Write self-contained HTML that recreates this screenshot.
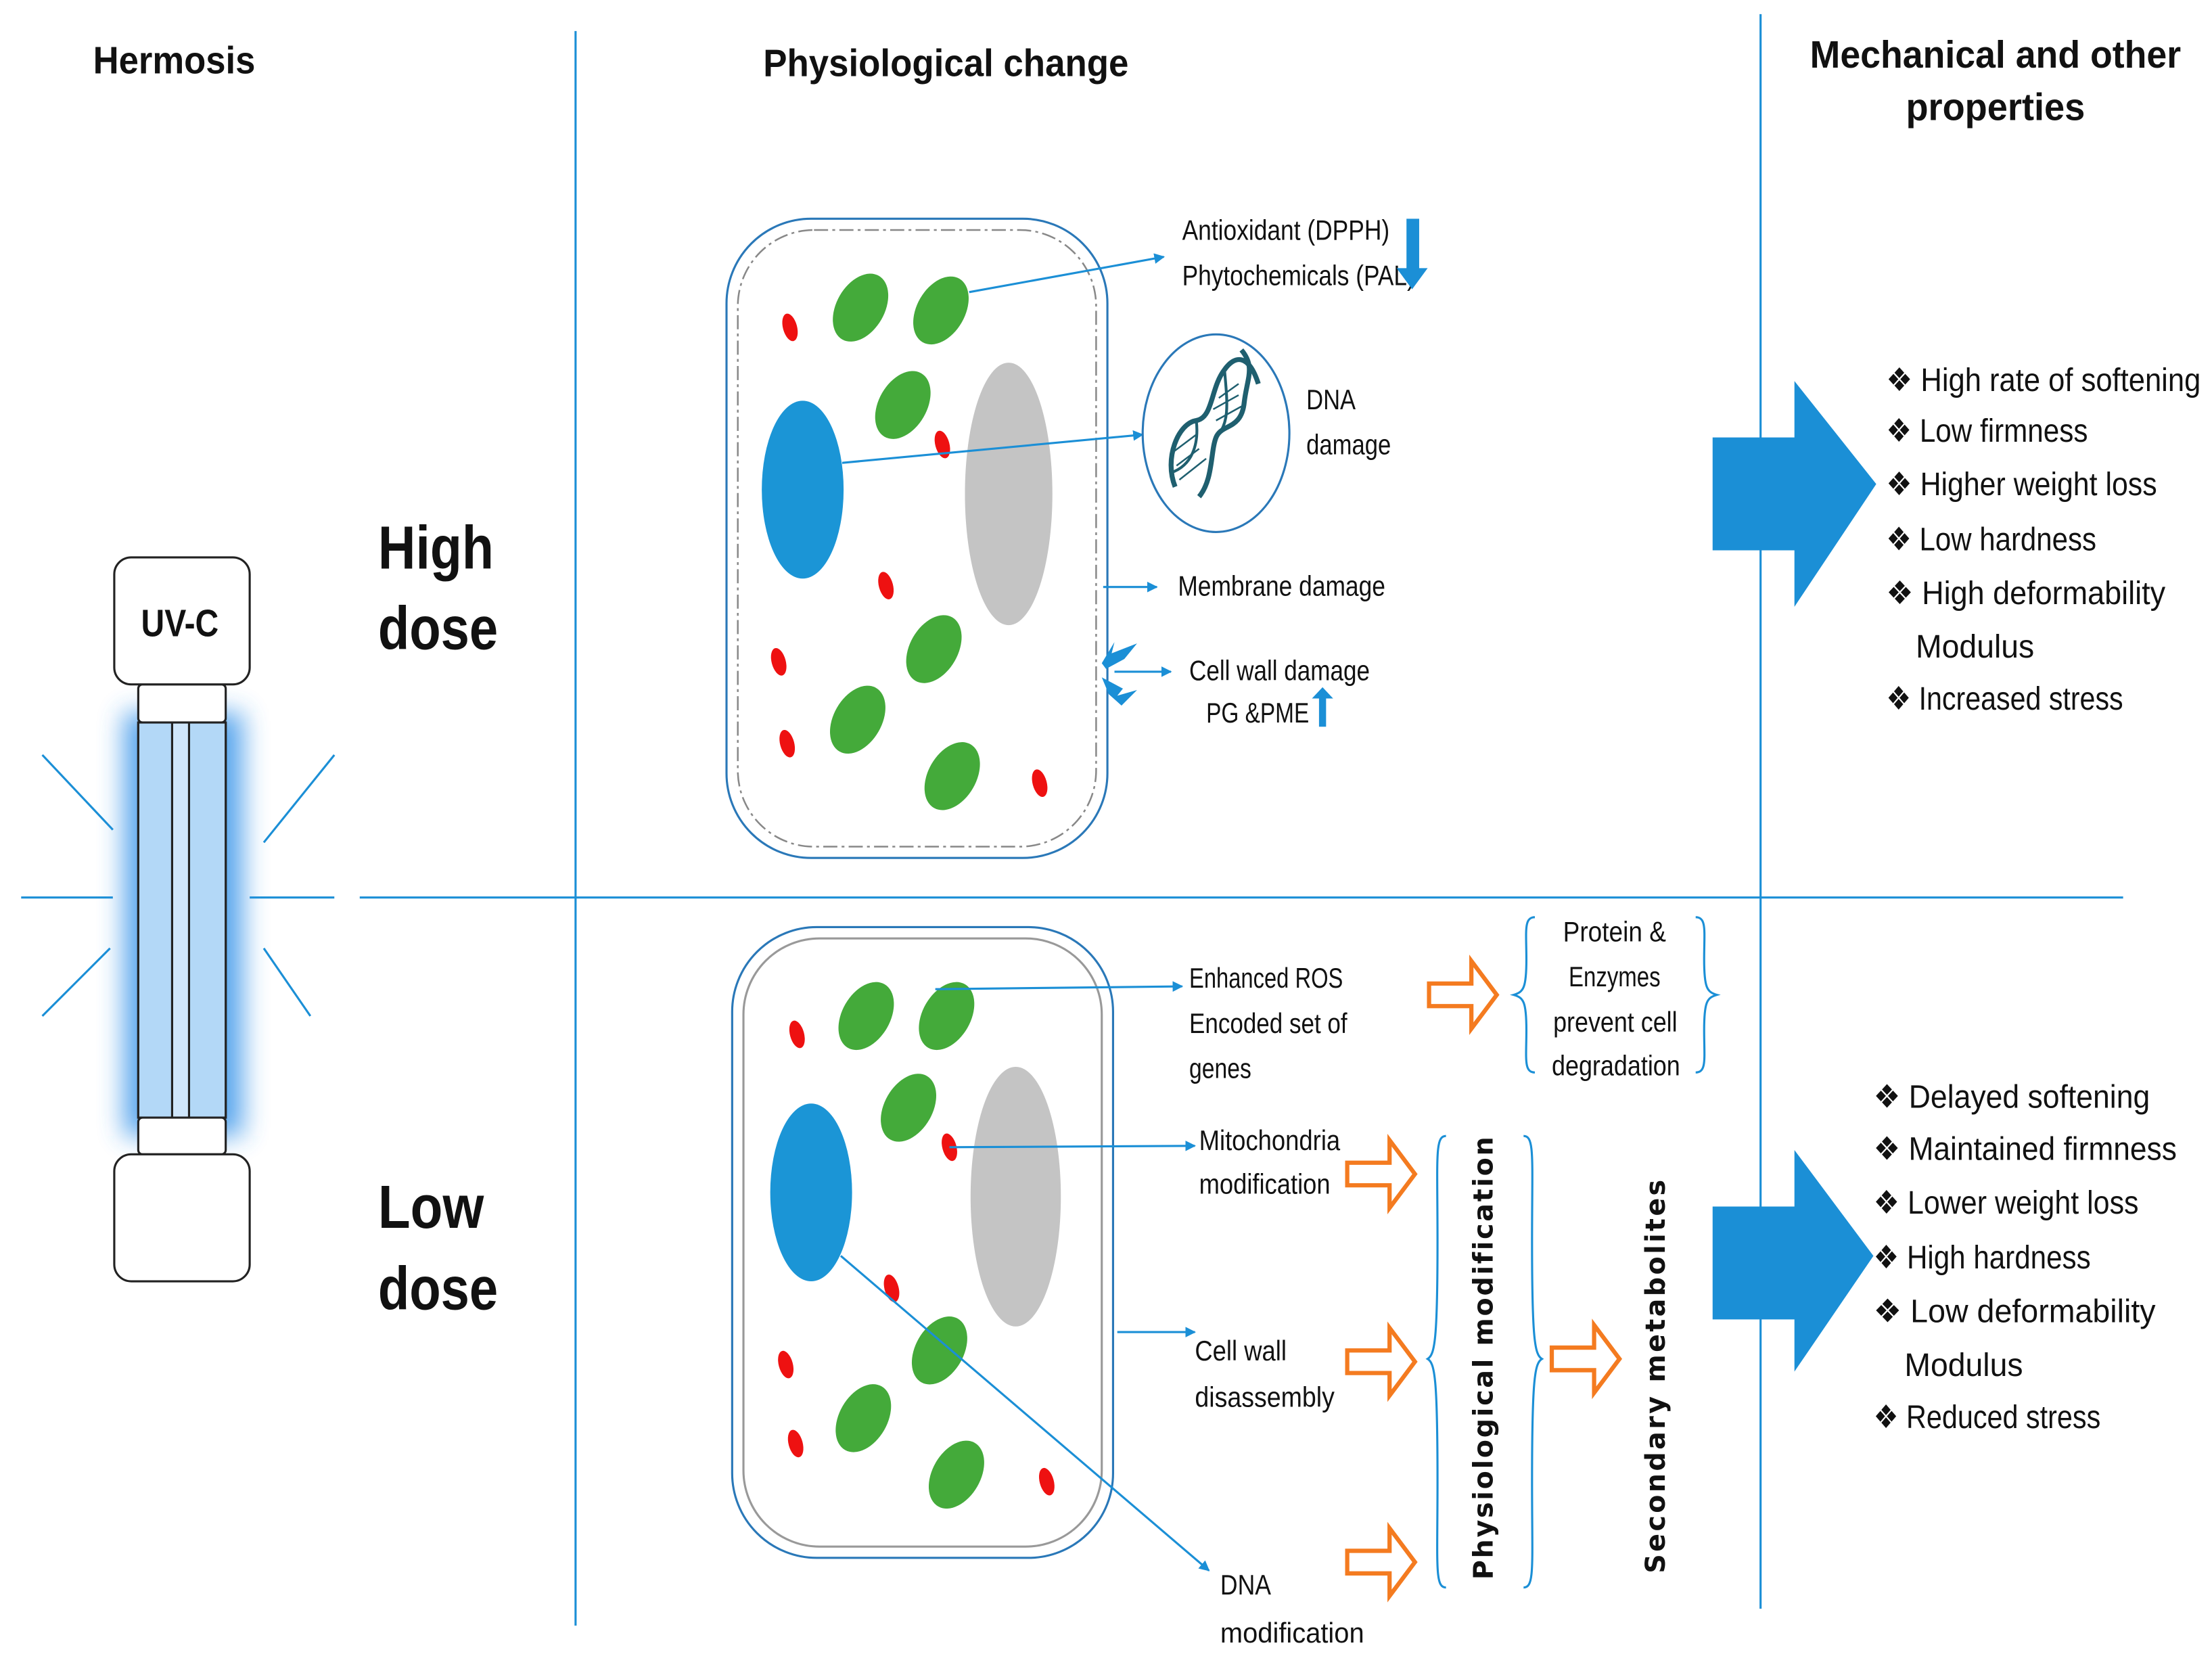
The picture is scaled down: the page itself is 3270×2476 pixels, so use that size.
<!DOCTYPE html>
<html><head><meta charset="utf-8"><style>
html,body{margin:0;padding:0;background:#fff}
svg{display:block}
text{font-family:"Liberation Sans",sans-serif;fill:#111}
.t{font-size:20px}
.h{font-size:27px;font-weight:bold}
.b{font-size:23px}
</style></head><body>
<svg width="3270" height="2476" viewBox="0 0 1568 1187" preserveAspectRatio="none" xmlns="http://www.w3.org/2000/svg">
<defs>
<marker id="ar" viewBox="0 0 10 10" refX="9" refY="5" markerWidth="5" markerHeight="5" orient="auto"><path d="M0,0L10,5L0,10z" fill="#1b8fd6"/></marker>
<filter id="glow" x="-1" y="-0.3" width="3" height="1.6"><feGaussianBlur stdDeviation="9"/></filter>
<g id="oa"><path d="M0,-8H30V-24L48,0L30,24V8H0Z" fill="#fff" stroke="#f47b20" stroke-width="3"/></g>
</defs>
<g stroke="#1b8fd6" stroke-width="1.5">
<line x1="408" y1="22" x2="408" y2="1152"/>
<line x1="1248" y1="10" x2="1248" y2="1140"/>
<line x1="255" y1="636" x2="1505" y2="636"/>
<line x1="15" y1="636" x2="80" y2="636"/>
<line x1="177" y1="636" x2="237" y2="636"/>
<line x1="30" y1="535" x2="80" y2="588"/>
<line x1="237" y1="535" x2="187" y2="597"/>
<line x1="30" y1="720" x2="78" y2="672"/>
<line x1="220" y1="720" x2="187" y2="672"/>
</g>
<text class="h" x="66" y="52" textLength="115" lengthAdjust="spacingAndGlyphs">Hermosis</text>
<text class="h" x="541" y="54" textLength="259" lengthAdjust="spacingAndGlyphs">Physiological change</text>
<text class="h" x="1283" y="48" textLength="263" lengthAdjust="spacingAndGlyphs">Mechanical and other</text>
<text class="h" x="1351" y="85" textLength="127" lengthAdjust="spacingAndGlyphs">properties</text>
<!-- lamp -->
<rect x="88" y="505" width="84" height="300" fill="#2f8fe8" filter="url(#glow)" opacity="0.8"/>
<rect x="98" y="512" width="62" height="280" fill="#cfe6fb" stroke="#222" stroke-width="1.5"/>
<rect x="98" y="512" width="24" height="280" fill="#b3d8f7" stroke="#222" stroke-width="1.5"/>
<rect x="134" y="512" width="26" height="280" fill="#b3d8f7" stroke="#222" stroke-width="1.5"/>
<rect x="98" y="485" width="62" height="27" rx="3" fill="#fff" stroke="#222" stroke-width="1.5"/>
<rect x="98" y="792" width="62" height="26" rx="3" fill="#fff" stroke="#222" stroke-width="1.5"/>
<rect x="81" y="395" width="96" height="90" rx="12" fill="#fff" stroke="#222" stroke-width="1.5"/>
<rect x="81" y="818" width="96" height="90" rx="12" fill="#fff" stroke="#222" stroke-width="1.5"/>
<text x="100" y="451" style="font-size:27px;font-weight:bold" textLength="55" lengthAdjust="spacingAndGlyphs">UV-C</text>
<text x="268" y="403" style="font-size:43px;font-weight:bold" textLength="82" lengthAdjust="spacingAndGlyphs">High</text>
<text x="268" y="460" style="font-size:43px;font-weight:bold" textLength="85" lengthAdjust="spacingAndGlyphs">dose</text>
<text x="268" y="870" style="font-size:43px;font-weight:bold" textLength="75" lengthAdjust="spacingAndGlyphs">Low</text>
<text x="268" y="928" style="font-size:43px;font-weight:bold" textLength="85" lengthAdjust="spacingAndGlyphs">dose</text>
<!-- top cell -->
<rect x="515" y="155" width="270" height="453" rx="60" fill="#fff" stroke="#2a78b8" stroke-width="1.5"/>
<rect x="523" y="163" width="254" height="437" rx="54" fill="none" stroke="#888" stroke-width="1.2" stroke-dasharray="10,3,2,3"/>
<g fill="#44aa3a">
<ellipse cx="610" cy="218" rx="17" ry="26" transform="rotate(30 610 218)"/>
<ellipse cx="667" cy="220" rx="17" ry="26" transform="rotate(30 667 220)"/>
<ellipse cx="640" cy="287" rx="17" ry="26" transform="rotate(30 640 287)"/>
<ellipse cx="662" cy="460" rx="17" ry="26" transform="rotate(30 662 460)"/>
<ellipse cx="608" cy="510" rx="17" ry="26" transform="rotate(30 608 510)"/>
<ellipse cx="675" cy="550" rx="17" ry="26" transform="rotate(30 675 550)"/>
</g>
<g fill="#ee1111">
<ellipse cx="560" cy="232" rx="5" ry="10" transform="rotate(-15 560 232)"/>
<ellipse cx="668" cy="315" rx="5" ry="10" transform="rotate(-15 668 315)"/>
<ellipse cx="628" cy="415" rx="5" ry="10" transform="rotate(-15 628 415)"/>
<ellipse cx="552" cy="469" rx="5" ry="10" transform="rotate(-15 552 469)"/>
<ellipse cx="558" cy="527" rx="5" ry="10" transform="rotate(-15 558 527)"/>
<ellipse cx="737" cy="555" rx="5" ry="10" transform="rotate(-15 737 555)"/>
</g>
<ellipse cx="569" cy="347" rx="29" ry="63" fill="#1b95d6"/>
<ellipse cx="715" cy="350" rx="31" ry="93" fill="#c4c4c4"/>
<g stroke="#1b8fd6" stroke-width="1.5" marker-end="url(#ar)">
<line x1="687" y1="207" x2="825" y2="182"/>
<line x1="597" y1="328" x2="810" y2="308"/>
<line x1="782" y1="416" x2="820" y2="416"/>
<line x1="790" y1="476" x2="830" y2="476"/>
</g>
<path d="M781,470 L790,455 L788,463 L806,456 L797,467 L784,474Z M781,480 L796,488 L792,493 L806,489 L795,500 L786,492Z" fill="#1b8fd6"/>
<ellipse cx="862" cy="307" rx="52" ry="70" fill="#fff" stroke="#2a78b8" stroke-width="1.5"/>
<g fill="none" stroke="#1f5f6f" stroke-width="3.5">
<path d="M833,345 C825,325 835,300 848,298 C860,296 858,275 868,262 C875,252 885,250 892,272"/>
<path d="M850,352 C860,340 858,320 862,310 C866,300 880,305 882,285 C884,268 890,260 880,248"/>
<path d="M830,335 C845,330 850,315 848,298 M862,310 C872,300 870,285 868,262" stroke-width="2"/>
</g>
<g stroke="#1f5f6f" stroke-width="1.2">
<line x1="834" y1="330" x2="850" y2="318"/><line x1="836" y1="340" x2="855" y2="325"/><line x1="832" y1="320" x2="848" y2="308"/>
<line x1="860" y1="290" x2="878" y2="280"/><line x1="862" y1="298" x2="880" y2="288"/><line x1="864" y1="282" x2="878" y2="272"/>
</g>
<text class="t" x="926" y="290" textLength="35" lengthAdjust="spacingAndGlyphs">DNA</text>
<text class="t" x="926" y="322" textLength="60" lengthAdjust="spacingAndGlyphs">damage</text>
<text class="t" x="838" y="170" textLength="147" lengthAdjust="spacingAndGlyphs">Antioxidant (DPPH)</text>
<text class="t" x="838" y="202" textLength="165" lengthAdjust="spacingAndGlyphs">Phytochemicals  (PAL)</text>
<path d="M997,155H1006V190H1012L1001,205L990,190H997Z" fill="#1b8fd6"/>
<text class="t" x="835" y="422" textLength="147" lengthAdjust="spacingAndGlyphs">Membrane damage</text>
<text class="t" x="843" y="482" textLength="128" lengthAdjust="spacingAndGlyphs">Cell wall damage</text>
<text class="t" x="855" y="512" textLength="73" lengthAdjust="spacingAndGlyphs">PG &amp;PME</text>
<path d="M935,515H940V495H945L937.5,487L930,495H935Z" fill="#1b8fd6"/>
<!-- big arrows -->
<path d="M1214,310H1272V270L1330,343L1272,430V390H1214Z" fill="#1b8fd6"/>
<path d="M1214,855H1272V815L1328,890L1272,972V935H1214Z" fill="#1b8fd6"/>
<text class="b" x="1337" y="277" textLength="223" lengthAdjust="spacingAndGlyphs">❖ High rate of softening</text>
<text class="b" x="1337" y="313" textLength="143" lengthAdjust="spacingAndGlyphs">❖ Low firmness</text>
<text class="b" x="1337" y="351" textLength="192" lengthAdjust="spacingAndGlyphs">❖ Higher weight loss</text>
<text class="b" x="1337" y="390" textLength="149" lengthAdjust="spacingAndGlyphs">❖ Low hardness</text>
<text class="b" x="1337" y="428" textLength="198" lengthAdjust="spacingAndGlyphs">❖ High deformability</text>
<text class="b" x="1358" y="466" textLength="84" lengthAdjust="spacingAndGlyphs">Modulus</text>
<text class="b" x="1337" y="503" textLength="168" lengthAdjust="spacingAndGlyphs">❖ Increased stress</text>
<text class="b" x="1328" y="785" textLength="196" lengthAdjust="spacingAndGlyphs">❖ Delayed  softening</text>
<text class="b" x="1328" y="822" textLength="215" lengthAdjust="spacingAndGlyphs">❖ Maintained firmness</text>
<text class="b" x="1328" y="860" textLength="188" lengthAdjust="spacingAndGlyphs">❖ Lower weight loss</text>
<text class="b" x="1328" y="899" textLength="154" lengthAdjust="spacingAndGlyphs">❖ High hardness</text>
<text class="b" x="1328" y="937" textLength="200" lengthAdjust="spacingAndGlyphs">❖ Low  deformability</text>
<text class="b" x="1350" y="975" textLength="84" lengthAdjust="spacingAndGlyphs">Modulus</text>
<text class="b" x="1328" y="1012" textLength="161" lengthAdjust="spacingAndGlyphs">❖ Reduced stress</text>
<!-- bottom cell -->
<rect x="519" y="657" width="270" height="447" rx="60" fill="#fff" stroke="#2a78b8" stroke-width="1.5"/>
<rect x="527" y="665" width="254" height="431" rx="54" fill="none" stroke="#999" stroke-width="1.5"/>
<g fill="#44aa3a">
<ellipse cx="614" cy="720" rx="17" ry="26" transform="rotate(30 614 720)"/>
<ellipse cx="671" cy="720" rx="17" ry="26" transform="rotate(30 671 720)"/>
<ellipse cx="644" cy="785" rx="17" ry="26" transform="rotate(30 644 785)"/>
<ellipse cx="666" cy="957" rx="17" ry="26" transform="rotate(30 666 957)"/>
<ellipse cx="612" cy="1005" rx="17" ry="26" transform="rotate(30 612 1005)"/>
<ellipse cx="678" cy="1045" rx="17" ry="26" transform="rotate(30 678 1045)"/>
</g>
<g fill="#ee1111">
<ellipse cx="565" cy="733" rx="5" ry="10" transform="rotate(-15 565 733)"/>
<ellipse cx="673" cy="813" rx="5" ry="10" transform="rotate(-15 673 813)"/>
<ellipse cx="632" cy="913" rx="5" ry="10" transform="rotate(-15 632 913)"/>
<ellipse cx="557" cy="967" rx="5" ry="10" transform="rotate(-15 557 967)"/>
<ellipse cx="564" cy="1023" rx="5" ry="10" transform="rotate(-15 564 1023)"/>
<ellipse cx="742" cy="1050" rx="5" ry="10" transform="rotate(-15 742 1050)"/>
</g>
<ellipse cx="575" cy="845" rx="29" ry="63" fill="#1b95d6"/>
<ellipse cx="720" cy="848" rx="32" ry="92" fill="#c4c4c4"/>
<g stroke="#1b8fd6" stroke-width="1.5" marker-end="url(#ar)">
<line x1="663" y1="701" x2="838" y2="699"/>
<line x1="673" y1="813" x2="847" y2="812"/>
<line x1="792" y1="944" x2="847" y2="944"/>
<line x1="596" y1="890" x2="857" y2="1113"/>
</g>
<text class="t" x="843" y="700" textLength="109" lengthAdjust="spacingAndGlyphs">Enhanced  ROS</text>
<text class="t" x="843" y="732" textLength="112" lengthAdjust="spacingAndGlyphs">Encoded set of</text>
<text class="t" x="843" y="764" textLength="44" lengthAdjust="spacingAndGlyphs">genes</text>
<text class="t" x="850" y="815" textLength="100" lengthAdjust="spacingAndGlyphs">Mitochondria</text>
<text class="t" x="850" y="846" textLength="93" lengthAdjust="spacingAndGlyphs">modification</text>
<text class="t" x="847" y="964" textLength="65" lengthAdjust="spacingAndGlyphs">Cell wall</text>
<text class="t" x="847" y="997" textLength="99" lengthAdjust="spacingAndGlyphs">disassembly</text>
<text class="t" x="865" y="1130" textLength="36" lengthAdjust="spacingAndGlyphs">DNA</text>
<text class="t" x="865" y="1164" textLength="102" lengthAdjust="spacingAndGlyphs">modification</text>
<use href="#oa" x="1013" y="705"/>
<use href="#oa" x="955" y="832"/>
<use href="#oa" x="955" y="965"/>
<use href="#oa" x="955" y="1107"/>
<use href="#oa" x="1100" y="963"/>
<g fill="none" stroke="#1b8fd6" stroke-width="1.5">
<path d="M1088,650 C1080,650 1082,660 1082,680 C1082,700 1080,703 1073,705 C1080,707 1082,710 1082,730 C1082,750 1080,760 1088,760"/>
<path d="M1202,650 C1210,650 1208,660 1208,680 C1208,700 1210,703 1217,705 C1210,707 1208,710 1208,730 C1208,750 1210,760 1202,760"/>
<path d="M1025,805 C1017,805 1019,820 1019,880 C1019,950 1017,960 1012,963 C1017,966 1019,976 1019,1050 C1019,1110 1017,1125 1025,1125"/>
<path d="M1080,805 C1088,805 1086,820 1086,880 C1086,950 1088,960 1093,963 C1088,966 1086,976 1086,1050 C1086,1110 1088,1125 1080,1125"/>
</g>
<text class="t" x="1108" y="667" textLength="73" lengthAdjust="spacingAndGlyphs">Protein &amp;</text>
<text class="t" x="1112" y="699" textLength="65" lengthAdjust="spacingAndGlyphs">Enzymes</text>
<text class="t" x="1101" y="731" textLength="88" lengthAdjust="spacingAndGlyphs">prevent cell</text>
<text class="t" x="1100" y="762" textLength="91" lengthAdjust="spacingAndGlyphs">degradation</text>
<text transform="translate(1058,962) rotate(-90)" text-anchor="middle" style="font-family:'DejaVu Sans',sans-serif;font-weight:bold;font-size:19px;letter-spacing:1px" textLength="315">Physiological modification</text>
<text transform="translate(1180,975) rotate(-90)" text-anchor="middle" style="font-family:'DejaVu Sans',sans-serif;font-weight:bold;font-size:19px;letter-spacing:1px" textLength="280">Secondary metabolites</text>
</svg>
</body></html>
